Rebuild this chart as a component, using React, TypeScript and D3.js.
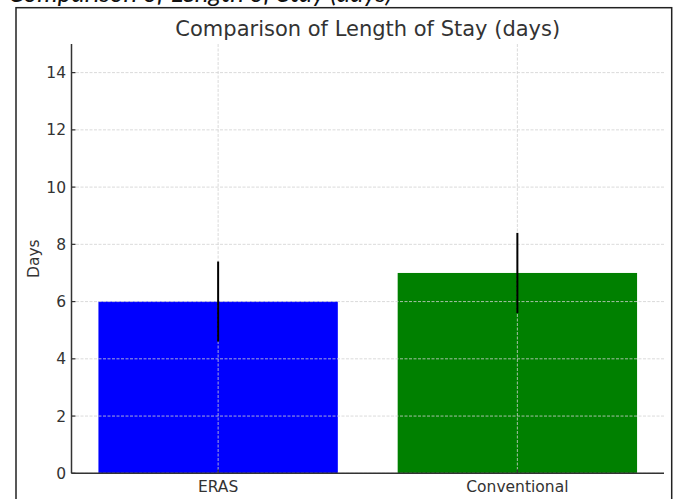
import React from "react";
import * as d3 from "d3";

const categories = ["ERAS", "Conventional"];
const values = [6, 7];
const errors = [1.4, 1.4];
const colors = ["#0000ff", "#008000"];
const yTicks = [0, 2, 4, 6, 8, 10, 12, 14];
const title = "Comparison of Length of Stay (days)";
const yLabel = "Days";

const W = 676;
const H = 499;
const M = { left: 71.5, right: 664, top: 44, bottom: 473.3 };

export default function App() {
  const x = d3.scaleLinear().domain([-0.49, 1.49]).range([M.left, M.right]);
  const y = d3.scaleLinear().domain([0, 15]).range([M.bottom, M.top]);
  const bw = x(0.4) - x(-0.4);
  const font = "DejaVu Sans, sans-serif";
  const gridColor = "#d0d0d0";
  return (
    <svg
      width={W}
      height={H}
      style={{ position: "absolute", left: 0, top: 0, background: "#fff" }}
      fontFamily={font}
    >
      <rect x={0} y={0} width={W} height={H} fill="#fff" />
      <text
        x={8}
        y={2}
        fontSize={26}
        fontStyle="italic"
        fontFamily="Lato, sans-serif"
        fill="#111"
      >
        {title}
      </text>
      <rect
        x={16}
        y={7.7}
        width={655.7}
        height={520}
        fill="#fff"
        stroke="#222"
        strokeWidth={1.5}
      />
      {categories.map((c, i) => (
        <rect
          key={c}
          x={x(i) - bw / 2}
          y={y(values[i])}
          width={bw}
          height={y(0) - y(values[i])}
          fill={colors[i]}
        />
      ))}
      {yTicks.map((t) => (
        <line
          key={"gy" + t}
          x1={M.left}
          x2={M.right}
          y1={y(t)}
          y2={y(t)}
          stroke={gridColor}
          strokeWidth={0.8}
          strokeDasharray="3,1.5"
        />
      ))}
      {categories.map((c, i) => (
        <line
          key={"gx" + c}
          x1={x(i)}
          x2={x(i)}
          y1={M.top}
          y2={M.bottom}
          stroke={gridColor}
          strokeWidth={0.8}
          strokeDasharray="3,1.5"
        />
      ))}
      {categories.map((c, i) => (
        <line
          key={"e" + c}
          x1={x(i)}
          x2={x(i)}
          y1={y(values[i] + errors[i])}
          y2={y(values[i] - errors[i])}
          stroke="#000"
          strokeWidth={2}
        />
      ))}
      <line x1={M.left} x2={M.left} y1={M.top} y2={M.bottom} stroke="#333" strokeWidth={1.5} />
      <line x1={M.left} x2={M.right} y1={M.bottom} y2={M.bottom} stroke="#333" strokeWidth={1.5} />
      {yTicks.map((t) => (
        <g key={"ty" + t}>
          <line x1={M.left} x2={M.left + 4} y1={y(t)} y2={y(t)} stroke="#333" strokeWidth={1.2} />
          <text
            x={M.left - 5.5}
            y={y(t)}
            dy="0.36em"
            textAnchor="end"
            fontSize={15.5}
            fill="#333"
          >
            {t}
          </text>
        </g>
      ))}
      {categories.map((c, i) => (
        <g key={"tx" + c}>
          <line x1={x(i)} x2={x(i)} y1={M.bottom} y2={M.bottom - 4} stroke="#333" strokeWidth={1.2} />
          <text x={x(i)} y={492} textAnchor="middle" fontSize={15.5} fill="#333">
            {c}
          </text>
        </g>
      ))}
      <text
        transform={`translate(39, ${(M.top + M.bottom) / 2}) rotate(-90)`}
        textAnchor="middle"
        fontSize={15.5}
        fill="#333"
      >
        {yLabel}
      </text>
      <text
        x={(M.left + M.right) / 2}
        y={36}
        textAnchor="middle"
        fontSize={21}
        fill="#333"
      >
        {title}
      </text>
    </svg>
  );
}
